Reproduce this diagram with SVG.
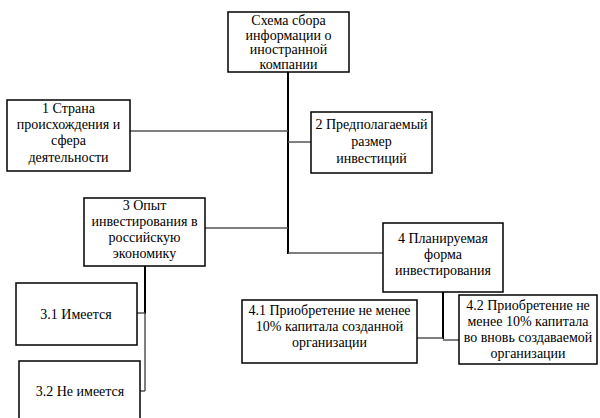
<svg xmlns="http://www.w3.org/2000/svg" width="600" height="418" viewBox="0 0 600 418">
<style>
.box{fill:#fff;stroke:#000;stroke-width:1.5}
.t{font-family:"Liberation Serif","Times New Roman",serif;font-size:14px;fill:#000;text-anchor:middle}
.v{stroke:#000;stroke-width:2;fill:none}
.h{stroke:#555;stroke-width:1.5;fill:none}
</style>
<rect width="600" height="418" fill="#fff"/>
<g id="connectors">
<line class="v" x1="288" y1="72" x2="288" y2="254"/>
<line class="h" x1="130" y1="131" x2="288" y2="131"/>
<line class="h" x1="288" y1="142" x2="311" y2="142"/>
<line class="h" x1="205" y1="228" x2="288" y2="228"/>
<line class="h" x1="288" y1="253" x2="383" y2="253"/>
<line class="v" x1="145" y1="266" x2="145" y2="314"/>
<line class="h" x1="145" y1="313" x2="145" y2="391"/>
<line class="h" x1="137" y1="313" x2="145" y2="313"/>
<line class="h" x1="140" y1="391" x2="145" y2="391"/>
<line class="v" x1="443" y1="292" x2="443" y2="339"/>
<line class="h" x1="417" y1="338" x2="443" y2="338"/>
<line class="h" x1="443" y1="340" x2="459" y2="340"/>
</g>
<g id="top">
<rect class="box" x="228" y="12" width="121" height="60"/>
<text class="t" x="288.5" y="25">Схема  сбора</text>
<text class="t" x="288.5" y="39.5">информации о</text>
<text class="t" x="288.5" y="54">иностранной</text>
<text class="t" x="288.5" y="68.5">компании</text>
</g>
<g id="n1">
<rect class="box" x="7" y="100" width="123" height="71"/>
<text class="t" x="68.5" y="113">1 Страна</text>
<text class="t" x="68.5" y="129">происхождения  и</text>
<text class="t" x="68.5" y="145">сфера</text>
<text class="t" x="68.5" y="162">деятельности</text>
</g>
<g id="n2">
<rect class="box" x="311" y="112" width="121" height="61"/>
<text class="t" x="371.5" y="129">2 Предполагаемый</text>
<text class="t" x="371.5" y="146">размер</text>
<text class="t" x="371.5" y="163">инвестиций</text>
</g>
<g id="n3">
<rect class="box" x="84" y="198" width="121" height="68"/>
<text class="t" x="144.5" y="210">3 Опыт</text>
<text class="t" x="144.5" y="226">инвестирования  в</text>
<text class="t" x="144.5" y="242">российскую</text>
<text class="t" x="144.5" y="258">экономику</text>
</g>
<g id="n4">
<rect class="box" x="383" y="223" width="120" height="69"/>
<text class="t" x="443" y="243">4 Планируемая</text>
<text class="t" x="443" y="259">форма</text>
<text class="t" x="443" y="275">инвестирования</text>
</g>
<g id="n31">
<rect class="box" x="16" y="283" width="121" height="62"/>
<text class="t" x="76" y="319">3.1  Имеется</text>
</g>
<g id="n32">
<rect class="box" x="19" y="361" width="121" height="60"/>
<text class="t" x="80" y="396">3.2  Не имеется</text>
</g>
<g id="n41">
<rect class="box" x="242" y="300" width="175" height="63"/>
<text class="t" x="329.5" y="315">4.1  Приобретение не менее</text>
<text class="t" x="329.5" y="331">10%  капитала  созданной</text>
<text class="t" x="329.5" y="347">организации</text>
</g>
<g id="n42">
<rect class="box" x="459" y="295" width="138" height="69"/>
<text class="t" x="528" y="310">4.2  Приобретение не</text>
<text class="t" x="528" y="326">менее 10% капитала</text>
<text class="t" x="528" y="342">во вновь создаваемой</text>
<text class="t" x="528" y="358">организации</text>
</g>
</svg>
